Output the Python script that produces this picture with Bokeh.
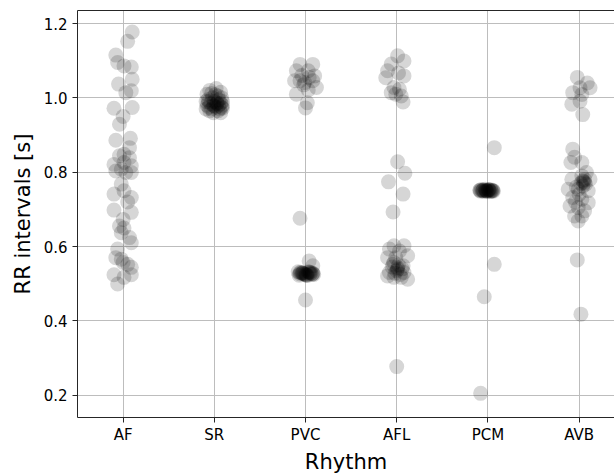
from bokeh.plotting import figure
from bokeh.models import FixedTicker, LinearAxis, Range1d, ColumnDataSource
from bokeh.embed import file_html
from bokeh.resources import INLINE

categories = ["AF", "SR", "PVC", "AFL", "PCM", "AVB"]
y_ticks = [0.2, 0.4, 0.6, 0.8, 1.0, 1.2]

# RR interval values (s) and horizontal jitter offsets
af_rr = [1.177, 1.152, 1.115, 1.095, 1.083, 1.086, 1.037, 1.05, 1.019, 1.014, 0.972, 0.974,
         0.950, 0.929, 0.886, 0.891, 0.866, 0.844, 0.848, 0.839, 0.821, 0.826, 0.817, 0.803,
         0.799, 0.808, 0.799, 0.768, 0.750, 0.741, 0.732, 0.720, 0.698, 0.692, 0.673, 0.655,
         0.650, 0.637, 0.624, 0.610, 0.593, 0.570, 0.566, 0.557, 0.552, 0.544, 0.524, 0.524,
         0.517, 0.499]
af_dx = [0.10, 0.05, -0.08, -0.06, 0.09, 0.01, -0.05, 0.10, 0.09, 0.03, -0.10, 0.10,
         0.0, -0.04, -0.08, 0.08, 0.07, -0.04, 0.01, 0.07, -0.10, 0.01, 0.09, -0.08,
         0.03, -0.02, 0.09, -0.02, 0.01, -0.10, 0.09, 0.05, -0.10, 0.09, 0.0, -0.04,
         0.01, -0.02, 0.07, 0.09, -0.06, -0.08, -0.02, 0.0, 0.05, 0.09, -0.10, 0.09,
         0.01, -0.06]

sr_rr = [1.025, 1.02, 1.015, 1.01, 1.005, 1.0, 1.0, 0.995, 0.995, 0.99, 0.99, 0.99, 0.985,
         0.985, 0.985, 0.98, 0.98, 0.98, 0.98, 0.975, 0.975, 0.975, 0.97, 0.97, 0.97, 0.965,
         0.965, 0.96, 0.96, 1.008, 0.99, 0.978, 0.986, 0.972, 1.012]
sr_dx = [0.02, -0.05, 0.07, -0.08, 0.04, -0.02, 0.08, -0.07, 0.05, -0.09, 0.0, 0.09, -0.04,
         0.03, 0.07, -0.08, -0.01, 0.05, 0.09, -0.06, 0.02, 0.08, -0.09, -0.03, 0.06, -0.05,
         0.04, -0.01, 0.07, 0.01, -0.06, 0.0, 0.03, 0.09, -0.03]

pvc_rr = [1.090, 1.090, 1.073, 1.073, 1.059, 1.046, 1.046, 1.046, 1.041, 1.028, 1.010, 1.021,
          0.987, 0.973, 1.06, 1.055, 1.035, 0.676, 0.561, 0.548, 0.456,
          0.532, 0.530, 0.528, 0.526, 0.524, 0.522, 0.531, 0.529, 0.527, 0.525, 0.523,
          0.530, 0.528, 0.526, 0.524, 0.532, 0.527, 0.525, 0.529, 0.523, 0.531, 0.526, 0.528]
pvc_dx = [-0.06, 0.08, -0.10, 0.03, 0.10, -0.06, 0.08, -0.12, -0.01, 0.12, -0.10, 0.03,
          0.02, 0.0, -0.04, 0.04, -0.02, -0.06, 0.04, 0.08, 0.0,
          -0.08, -0.06, -0.04, -0.02, 0.0, 0.02, 0.04, 0.06, 0.08, 0.09, -0.07,
          -0.05, -0.03, -0.01, 0.01, 0.03, 0.05, 0.07, -0.03, 0.01, 0.05, -0.06, 0.08]

afl_rr = [1.113, 1.099, 1.091, 1.073, 1.067, 1.059, 1.054, 1.028, 1.023, 1.014, 1.005, 0.989,
          1.010, 0.828, 0.797, 0.774, 0.741, 0.693,
          0.602, 0.602, 0.593, 0.588, 0.575, 0.570, 0.570, 0.552, 0.548, 0.539, 0.530, 0.530,
          0.517, 0.517, 0.521, 0.512, 0.543, 0.557, 0.535, 0.525, 0.545, 0.528, 0.540, 0.550,
          0.277]
afl_dx = [0.01, 0.08, -0.06, -0.10, 0.02, 0.08, -0.12, -0.03, 0.03, -0.06, 0.05, 0.07,
          -0.01, 0.01, 0.09, -0.09, 0.07, -0.04,
          -0.03, 0.08, -0.08, 0.03, 0.12, -0.10, -0.01, -0.04, 0.07, 0.01, -0.08, 0.08,
          -0.03, 0.05, -0.10, 0.12, 0.01, -0.03, 0.0, 0.04, -0.05, -0.02, 0.06, 0.02,
          0.0]

pcm_rr = [0.866, 0.552, 0.465, 0.205,
          0.751, 0.749, 0.753, 0.750, 0.752, 0.748, 0.754, 0.751, 0.749, 0.750, 0.752, 0.748,
          0.753, 0.751, 0.750, 0.749, 0.752, 0.751, 0.750, 0.753, 0.748, 0.751, 0.750, 0.752]
pcm_dx = [0.07, 0.07, -0.04, -0.08,
          -0.09, -0.08, -0.07, -0.06, -0.05, -0.04, -0.03, -0.02, -0.01, 0.0, 0.01, 0.02,
          0.03, 0.04, 0.05, 0.06, -0.085, -0.055, -0.025, 0.005, 0.035, 0.055, -0.015, 0.015]

avb_rr = [1.055, 1.040, 1.027, 1.027, 1.014, 1.009, 0.983, 0.991, 0.955,
          0.862, 0.840, 0.826, 0.826, 0.799,
          0.781, 0.777, 0.781, 0.754, 0.754, 0.750, 0.732, 0.727, 0.718, 0.709, 0.705, 0.696,
          0.682, 0.682, 0.669, 0.772, 0.790, 0.775, 0.768, 0.770, 0.762, 0.780, 0.760, 0.740,
          0.720, 0.564, 0.418]
avb_dx = [-0.02, 0.09, 0.01, 0.12, -0.07, 0.03, -0.08, 0.01, 0.04,
          -0.07, -0.05, -0.09, 0.03, 0.08,
          -0.08, 0.04, 0.12, -0.12, -0.01, 0.10, -0.07, 0.03, 0.10, -0.10, -0.01, 0.06,
          -0.05, 0.03, -0.01, 0.06, 0.03, 0.05, 0.07, 0.02, 0.04, 0.06, -0.03, 0.0,
          -0.04, -0.02, 0.02]

groups = [af_rr, sr_rr, pvc_rr, afl_rr, pcm_rr, avb_rr]
offsets = [af_dx, sr_dx, pvc_dx, afl_dx, pcm_dx, avb_dx]

xs, ys = [], []
for i, (vals, dxs) in enumerate(zip(groups, offsets)):
    for v, d in zip(vals, dxs):
        xs.append(i + d)
        ys.append(v)
src = ColumnDataSource(data=dict(x=xs, y=ys))

p = figure(width=614, height=476, output_backend="svg", toolbar_location=None,
           x_range=Range1d(-0.5, 5.388), y_range=Range1d(0.14, 1.235),
           min_border_left=77, min_border_right=0, min_border_top=10, min_border_bottom=58)

p.scatter("x", "y", source=src, size=15, fill_color="black", fill_alpha=0.16, line_color=None)

FONT = "DejaVu Sans"
AX = "#262626"

p.xaxis.ticker = FixedTicker(ticks=list(range(len(categories))))
p.xaxis.major_label_overrides = {i: c for i, c in enumerate(categories)}
p.yaxis.ticker = FixedTicker(ticks=y_ticks)
p.yaxis.major_label_overrides = {t: f"{t:.1f}" for t in y_ticks}

for ax in (p.xaxis[0], p.yaxis[0]):
    ax.axis_line_color = AX
    ax.axis_line_width = 1
    ax.major_tick_line_color = AX
    ax.major_tick_out = 5
    ax.major_tick_in = 0
    ax.minor_tick_line_color = None
    ax.major_label_text_font = FONT
    ax.major_label_text_font_size = "15px"
    ax.major_label_text_color = "black"
    ax.axis_label_text_font = FONT
    ax.axis_label_text_font_size = "21px"
    ax.axis_label_text_font_style = "normal"
    ax.axis_label_text_color = "black"

p.xaxis.axis_label = "Rhythm"
p.yaxis.axis_label = "RR intervals [s]"
p.xaxis.major_label_standoff = 3
p.yaxis.major_label_standoff = 5
p.xaxis.axis_label_standoff = 3
p.yaxis.axis_label_standoff = 6

top = LinearAxis(ticker=FixedTicker(ticks=[]), axis_line_color=AX, axis_line_width=1,
                 major_tick_out=0, major_tick_in=0, minor_tick_out=0, minor_tick_in=0,
                 major_label_text_font_size="0px", major_label_standoff=0)
p.add_layout(top, "above")

p.outline_line_color = None
p.grid.grid_line_color = "#bdbdbd"
p.grid.grid_line_width = 1
p.xgrid.ticker = FixedTicker(ticks=list(range(len(categories))))
p.ygrid.ticker = FixedTicker(ticks=y_ticks)
p.background_fill_color = "white"
p.border_fill_color = "white"

open("out.html", "w").write(file_html(p, INLINE))
